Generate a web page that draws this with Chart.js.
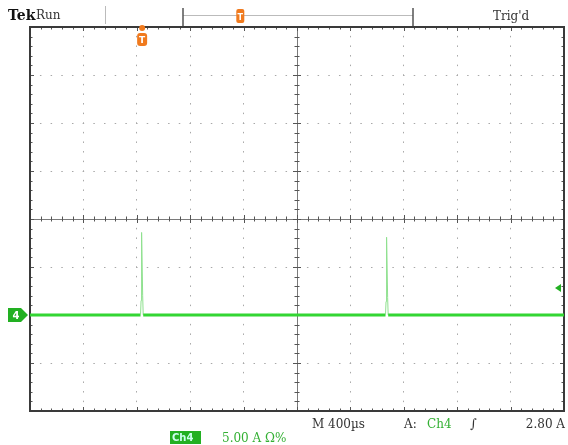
<!DOCTYPE html>
<html>
<head>
<meta charset="utf-8">
<script src="https://cdn.jsdelivr.net/npm/chart.js@4.4.1/dist/chart.umd.min.js"></script>
<style>
html,body{margin:0;padding:0;background:#fff;}
#wrap{width:568px;height:445px;position:relative;}
</style>
</head>
<body>
<div id="wrap"><canvas id="c" width="568" height="445"></canvas></div>
<script>
// Time from left edge of screen (µs), 400 µs/div, 10 divisions
const timeUs   = [0, 828, 832, 836, 844, 848, 2663, 2667, 2671, 2679, 2683, 4000];
// Channel 4 current (A), 5 A/div
const currentA = [0, 0,   1.5, 8.6, 2.0, 0,   0,    1.4,  8.1,  1.8,  0,    0];
const timeTicks = [0,400,800,1200,1600,2000,2400,2800,3200,3600,4000];
const ampTicks  = [-10,-5,0,5,10,15,20,25,30];
const triggerTimeUs = 840;
const triggerLevelA = 2.8;
const centerA = 10;
const centerUs = 2000;
const labels = {
  brand: 'Tek', state: 'Run', trig: "Trig'd",
  timebase: 'M 400µs', source: 'A:', srcCh: 'Ch4', slope: '\u222B', level: '2.80 A',
  chBox: 'Ch4', scale: '5.00 A \u03A9%'
};

const GREEN = '#33d633';
const graticule = {
  id: 'graticule',
  beforeDatasetsDraw(chart) {
    const {ctx, chartArea: a, scales: {x, y}} = chart;
    const cx = x.getPixelForValue(centerUs), cy = y.getPixelForValue(centerA);
    const divX = x.getPixelForValue(400) - x.getPixelForValue(0);
    const divY = y.getPixelForValue(0) - y.getPixelForValue(5);
    ctx.save();
    ctx.strokeStyle = '#7a7a7a';
    ctx.lineWidth = 1;
    ctx.beginPath();
    ctx.moveTo(a.left, Math.round(cy) + 0.5); ctx.lineTo(a.right, Math.round(cy) + 0.5);
    ctx.moveTo(Math.round(cx) + 0.5, a.top); ctx.lineTo(Math.round(cx) + 0.5, a.bottom);
    ctx.stroke();
    ctx.strokeStyle = '#555';
    ctx.beginPath();
    for (let i = 0; i <= 50; i++) {
      const px = Math.round(a.left + i * divX / 5) + 0.5;
      const l = i % 5 === 0 ? 4 : 2.5;
      ctx.moveTo(px, cy - l); ctx.lineTo(px, cy + l);
      ctx.moveTo(px, a.top); ctx.lineTo(px, a.top + l);
      ctx.moveTo(px, a.bottom); ctx.lineTo(px, a.bottom - l);
    }
    for (let i = 0; i <= 40; i++) {
      const py = Math.round(a.top + i * divY / 5) + 0.5;
      const l = i % 5 === 0 ? 4 : 2.5;
      ctx.moveTo(cx - l, py); ctx.lineTo(cx + l, py);
      ctx.moveTo(a.left, py); ctx.lineTo(a.left + l, py);
      ctx.moveTo(a.right, py); ctx.lineTo(a.right - l, py);
    }
    ctx.stroke();
    ctx.strokeStyle = '#3a3a3a';
    ctx.lineWidth = 2;
    ctx.strokeRect(a.left, a.top, a.right - a.left, a.bottom - a.top);
    ctx.restore();
  },
  afterDraw(chart) {
    const {ctx, chartArea: a, scales: {x, y}} = chart;
    ctx.save();
    // top status bar
    ctx.fillStyle = '#111';
    ctx.font = 'bold 14px "DejaVu Serif", serif';
    ctx.textBaseline = 'alphabetic';
    ctx.fillText(labels.brand, 8, 20);
    ctx.font = '12px "DejaVu Serif", serif';
    ctx.fillStyle = '#333';
    ctx.fillText(labels.state, 36, 19);
    ctx.fillText(labels.trig, 493, 20);
    // record view bracket
    ctx.strokeStyle = '#bbb'; ctx.lineWidth = 1;
    ctx.beginPath();
    ctx.moveTo(105.5, 6); ctx.lineTo(105.5, 24);
    ctx.moveTo(183, 15.5); ctx.lineTo(413, 15.5);
    ctx.stroke();
    ctx.strokeStyle = '#555'; ctx.lineWidth = 1.5;
    ctx.beginPath();
    ctx.moveTo(183, 8); ctx.lineTo(183, 26);
    ctx.moveTo(413, 8); ctx.lineTo(413, 26);
    ctx.stroke();
    // orange trigger markers
    const tx = x.getPixelForValue(triggerTimeUs);
    ctx.fillStyle = '#f07a1e';
    ctx.beginPath(); ctx.arc(tx, 28, 3, 0, Math.PI * 2); ctx.fill();
    ctx.beginPath(); ctx.roundRect(tx - 5, 33, 10, 13, 3); ctx.fill();
    ctx.fillStyle = '#fff'; ctx.font = 'bold 9px "DejaVu Sans"';
    ctx.textAlign = 'center';
    ctx.fillText('T', tx, 43);
    const bx = 183 + (413 - 183) * triggerTimeUs / 4000 + 9;
    ctx.fillStyle = '#f07a1e';
    ctx.beginPath(); ctx.roundRect(bx - 4, 9, 8, 14, 2); ctx.fill();
    ctx.fillStyle = '#fff'; ctx.font = 'bold 8px "DejaVu Sans"';
    ctx.fillText('T', bx, 20);
    // ground marker (left)
    const gy = y.getPixelForValue(0);
    ctx.fillStyle = '#22b022';
    ctx.beginPath();
    ctx.moveTo(8, gy - 7); ctx.lineTo(21, gy - 7); ctx.lineTo(28, gy); ctx.lineTo(21, gy + 7); ctx.lineTo(8, gy + 7);
    ctx.closePath(); ctx.fill();
    ctx.fillStyle = '#fff'; ctx.font = 'bold 10px "DejaVu Sans"';
    ctx.fillText('4', 16, gy + 4);
    // trigger level marker (right)
    const ly = y.getPixelForValue(triggerLevelA);
    ctx.fillStyle = '#22b022';
    ctx.beginPath();
    ctx.moveTo(a.right - 9, ly); ctx.lineTo(a.right - 3, ly - 4); ctx.lineTo(a.right - 3, ly + 4);
    ctx.closePath(); ctx.fill();
    // bottom readouts
    ctx.textAlign = 'left';
    ctx.font = '12px "DejaVu Serif", serif';
    ctx.fillStyle = '#333';
    ctx.fillText(labels.timebase, 312, 428);
    ctx.fillText(labels.source, 404, 428);
    ctx.fillStyle = '#33b033';
    ctx.fillText(labels.srcCh, 427, 428);
    ctx.fillStyle = '#333';
    ctx.font = 'italic 13px "DejaVu Serif", serif';
    ctx.fillText(labels.slope, 470, 428);
    ctx.font = '12px "DejaVu Serif", serif';
    ctx.textAlign = 'right';
    ctx.fillText(labels.level, 565, 428);
    ctx.textAlign = 'left';
    ctx.fillStyle = '#22b022';
    ctx.fillRect(170, 431, 31, 13);
    ctx.fillStyle = '#cfe';
    ctx.font = 'bold 10px "DejaVu Sans"';
    ctx.fillText(labels.chBox, 172, 441);
    ctx.fillStyle = '#33b033';
    ctx.font = '12px "DejaVu Serif", serif';
    ctx.fillText(labels.scale, 222, 442);
    ctx.restore();
  }
};

new Chart(document.getElementById('c'), {
  type: 'line',
  data: {
    datasets: [{
      label: 'Ch4',
      data: timeUs.map((t, i) => ({x: t, y: currentA[i]})),
      borderColor: GREEN,
      borderWidth: 3,
      pointRadius: 0,
      tension: 0,
      segment: {
        borderWidth: c => (Math.abs(c.p0.parsed.y) > 0.01 || Math.abs(c.p1.parsed.y) > 0.01) ? 1 : 3,
        borderColor: c => (Math.abs(c.p0.parsed.y) > 0.01 || Math.abs(c.p1.parsed.y) > 0.01) ? '#8ee08e' : GREEN
      }
    }]
  },
  options: {
    responsive: false,
    animation: false,
    layout: {padding: {left: 30, right: 4, top: 27, bottom: 34}},
    plugins: {legend: {display: false}, tooltip: {enabled: false}},
    scales: {
      x: {
        type: 'linear', min: 0, max: 4000,
        afterBuildTicks: s => { s.ticks = timeTicks.map(v => ({value: v})); },
        ticks: {display: false},
        border: {display: false, dash: [1.5, 8.1], dashOffset: 0.75},
        grid: {drawTicks: false, color: '#a8a8a8', lineWidth: 1}
      },
      y: {
        type: 'linear', min: -10, max: 30,
        afterBuildTicks: s => { s.ticks = ampTicks.map(v => ({value: v})); },
        ticks: {display: false},
        border: {display: false, dash: [1.5, 9.18], dashOffset: 0.75},
        grid: {drawTicks: false, color: '#a8a8a8', lineWidth: 1}
      }
    }
  },
  plugins: [graticule]
});
</script>
</body>
</html>
